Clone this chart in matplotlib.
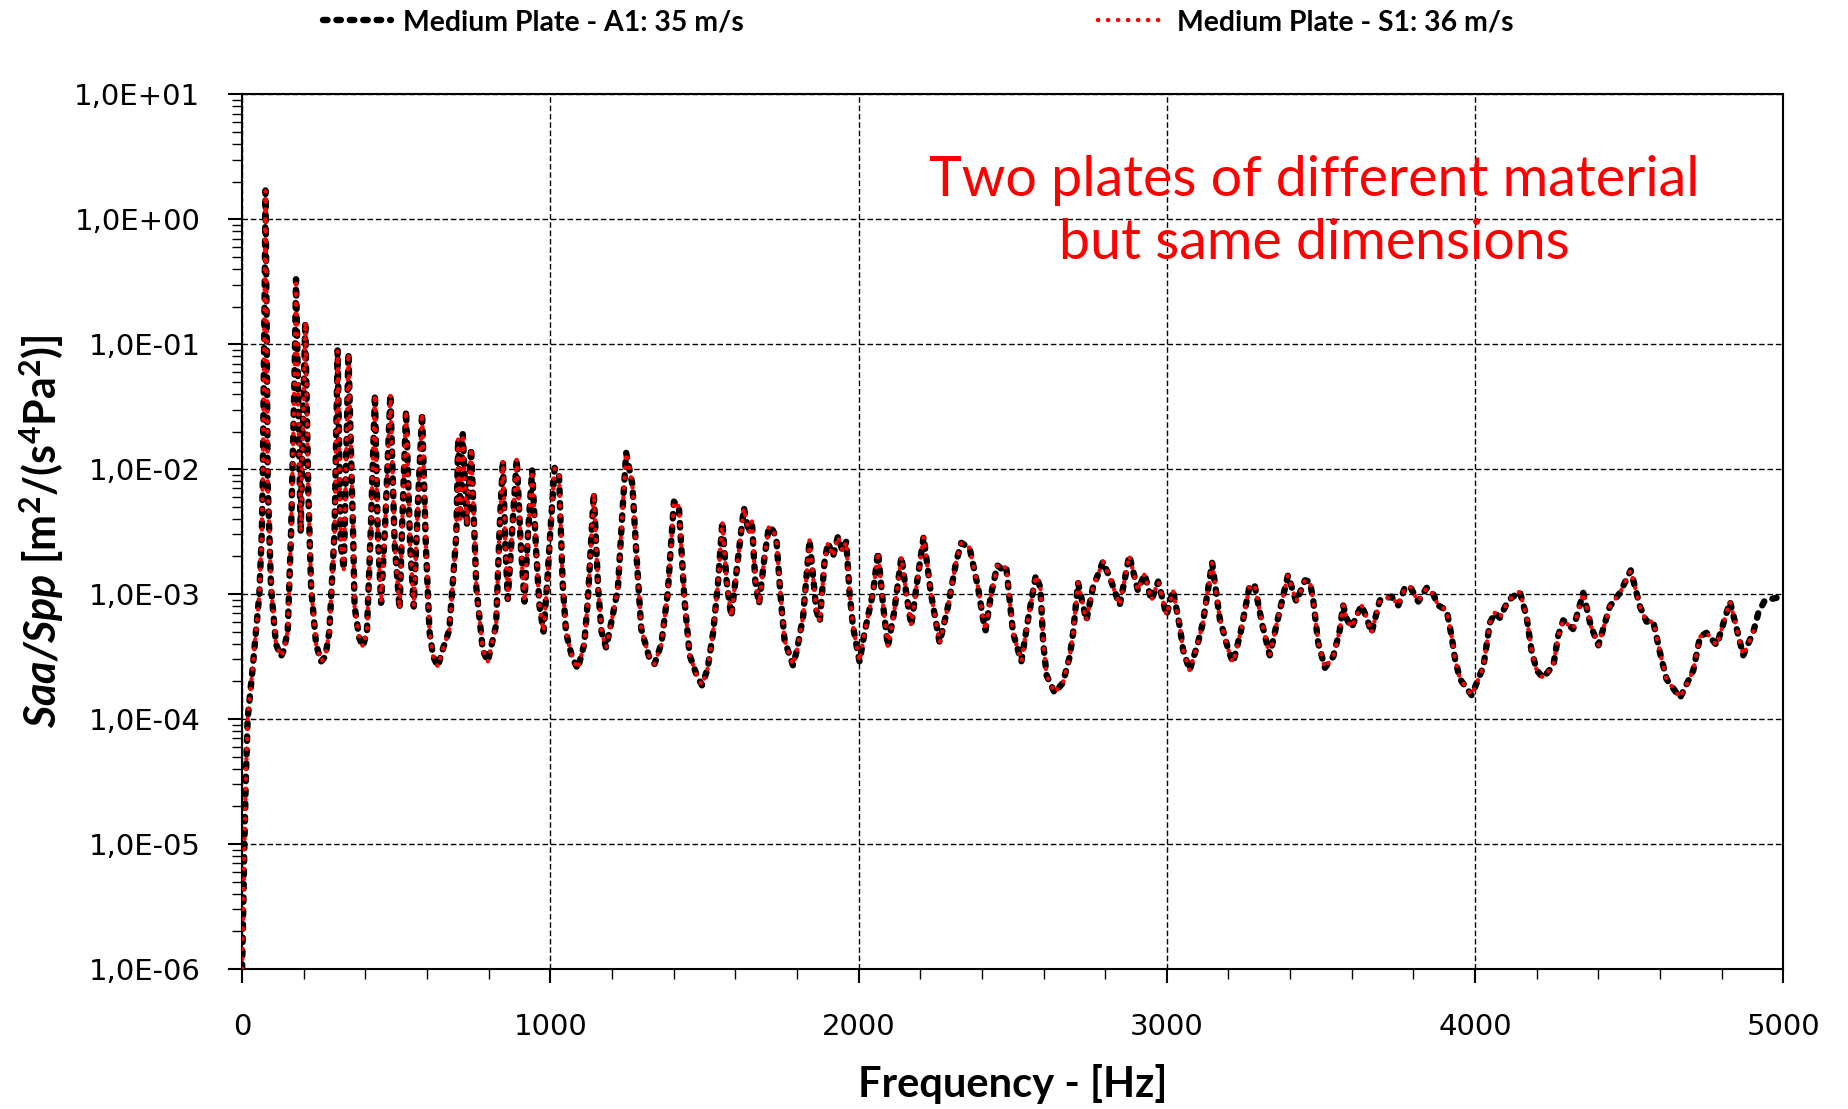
import matplotlib
matplotlib.use("Agg")
import matplotlib.pyplot as plt
import numpy as np
from matplotlib.ticker import LogLocator, FuncFormatter, MultipleLocator, NullFormatter

# ---------------- data ----------------
freq_hz = [
    0, 4, 7.5, 12, 18, 26, 34, 45, 56, 64,
    67, 72, 76, 80, 83, 94, 110, 126, 135, 148,
    159, 170, 175, 190, 205, 215, 224, 240, 256, 270,
    283, 300, 310, 320, 330, 345, 360, 365, 380, 392,
    405, 418, 431, 440, 451, 465, 481, 495, 511, 520,
    532, 545, 557, 570, 584, 596, 608, 620, 635, 650,
    672, 695, 701, 708, 716, 729, 743, 755, 760, 781,
    797, 810, 824, 835, 846, 854, 862, 876, 891, 904,
    916, 928, 941, 955, 965, 978, 990, 1000, 1014, 1028,
    1040, 1051, 1070, 1089, 1110, 1122, 1141, 1155, 1166, 1181,
    1200, 1219, 1235, 1246, 1266, 1279, 1295, 1320, 1338, 1360,
    1381, 1401, 1417, 1435, 1452, 1475, 1492, 1510, 1528, 1544,
    1558, 1572, 1587, 1605, 1628, 1644, 1654, 1665, 1677, 1695,
    1709, 1722, 1733, 1748, 1760, 1787, 1800, 1820, 1841, 1863,
    1874, 1890, 1901, 1917, 1933, 1949, 1960, 1971, 1982, 2003,
    2020, 2047, 2063, 2080, 2095, 2115, 2139, 2155, 2171, 2190,
    2211, 2235, 2263, 2290, 2316, 2333, 2360, 2387, 2404, 2412,
    2430, 2450, 2465, 2479, 2501, 2528, 2550, 2575, 2590, 2599,
    2610, 2636, 2663, 2685, 2696, 2712, 2739, 2760, 2793, 2820,
    2847, 2866, 2878, 2906, 2928, 2950, 2972, 2999, 3020, 3042,
    3053, 3074, 3100, 3117, 3147, 3172, 3200, 3215, 3240, 3269,
    3285, 3310, 3334, 3360, 3393, 3420, 3448, 3464, 3475, 3491,
    3513, 3540, 3561, 3572, 3584, 3599, 3620, 3632, 3650, 3664,
    3691, 3729, 3751, 3772, 3789, 3816, 3843, 3864, 3880, 3908,
    3924, 3935, 3951, 3989, 4027, 4048, 4064, 4080, 4108, 4145,
    4167, 4183, 4200, 4221, 4254, 4270, 4286, 4318, 4351, 4375,
    4400, 4437, 4470, 4505, 4535, 4556, 4578, 4600, 4621, 4665,
    4708, 4730, 4751, 4784, 4827, 4870, 4903, 4919, 4940, 4978,
]

# log10 of Saa/Spp
log10_saa_a1 = [
    -6.0, -5.5, -5.0, -4.5, -4.0, -3.8, -3.6, -3.3, -3.0, -2.5,
    -2.1, -0.9, 0.23, -0.9, -2.1, -2.95, -3.4, -3.5, -3.45, -3.3,
    -2.5, -1.28, -0.48, -2.5, -0.82, -2.2, -2.95, -3.4, -3.54, -3.5,
    -3.3, -2.5, -1.05, -2.6, -2.8, -1.07, -2.5, -3.1, -3.35, -3.42,
    -3.3, -2.45, -1.4, -2.5, -3.07, -2.4, -1.4, -2.6, -3.12, -2.4,
    -1.53, -2.6, -3.1, -2.3, -1.55, -2.6, -3.3, -3.5, -3.58, -3.45,
    -3.29, -2.53, -1.76, -2.4, -1.72, -2.45, -1.83, -2.6, -2.95, -3.45,
    -3.54, -3.4, -3.25, -2.5, -1.93, -2.6, -3.04, -2.5, -1.92, -2.6,
    -3.06, -2.5, -2.01, -2.7, -3.1, -3.3, -2.9, -2.5, -1.99, -2.04,
    -2.91, -3.31, -3.5, -3.6, -3.4, -3.04, -2.19, -2.95, -3.3, -3.43,
    -3.2, -2.96, -2.3, -1.87, -2.12, -2.67, -3.28, -3.5, -3.56, -3.4,
    -2.99, -2.26, -2.3, -3.04, -3.49, -3.65, -3.73, -3.6, -3.31, -2.91,
    -2.42, -2.9, -3.18, -2.8, -2.31, -2.51, -2.42, -2.9, -3.08, -2.7,
    -2.46, -2.49, -2.55, -3.05, -3.37, -3.57, -3.45, -3.18, -2.57, -3.13,
    -3.22, -2.73, -2.59, -2.7, -2.54, -2.66, -2.58, -3.0, -3.26, -3.54,
    -3.3, -2.99, -2.66, -3.1, -3.42, -3.15, -2.70, -3.0, -3.25, -2.9,
    -2.54, -3.0, -3.39, -3.1, -2.75, -2.59, -2.63, -2.94, -3.2, -3.29,
    -3.0, -2.77, -2.8, -2.78, -3.31, -3.54, -3.2, -2.85, -2.95, -3.39,
    -3.65, -3.79, -3.71, -3.5, -3.31, -2.91, -3.21, -2.95, -2.74, -2.9,
    -3.09, -2.85, -2.69, -2.97, -2.84, -3.05, -2.9, -3.17, -2.97, -3.26,
    -3.45, -3.61, -3.4, -3.23, -2.75, -3.2, -3.45, -3.55, -3.3, -2.93,
    -2.93, -3.25, -3.49, -3.2, -2.85, -3.06, -2.89, -2.9, -3.05, -3.39,
    -3.59, -3.5, -3.29, -3.09, -3.2, -3.27, -3.15, -3.09, -3.2, -3.31,
    -3.05, -3.02, -3.09, -2.95, -2.94, -3.06, -2.95, -3.0, -3.09, -3.13,
    -3.34, -3.52, -3.68, -3.81, -3.58, -3.23, -3.15, -3.19, -3.05, -2.98,
    -3.18, -3.45, -3.61, -3.67, -3.57, -3.33, -3.21, -3.28, -2.99, -3.25,
    -3.41, -3.1, -2.99, -2.81, -3.1, -3.22, -3.22, -3.47, -3.68, -3.83,
    -3.61, -3.34, -3.31, -3.41, -3.06, -3.49, -3.3, -3.15, -3.05, -3.03,
]

s1_last_hz = 4903          # the red S1 curve stops here
label_a1 = "Medium Plate - A1: 35 m/s"
label_s1 = "Medium Plate - S1: 36 m/s"
x_ticks = [0, 1000, 2000, 3000, 4000, 5000]
note_text = "Two plates of different material\nbut same dimensions"

# ---------------- derived series ----------------
freq_a1 = np.array(freq_hz, dtype=float)
saa_a1 = 10.0 ** np.array(log10_saa_a1)
mask_s1 = freq_a1 <= s1_last_hz
freq_s1 = freq_a1[mask_s1]
saa_s1 = saa_a1[mask_s1]

# ---------------- styling ----------------
plt.rcParams["mathtext.fontset"] = "custom"
plt.rcParams["mathtext.rm"] = "Lato"
plt.rcParams["mathtext.it"] = "Lato:italic"
plt.rcParams["mathtext.bf"] = "Lato:bold"
plt.rcParams["mathtext.bfit"] = "Lato:italic:bold"

fig = plt.figure(figsize=(18.48, 11.09), dpi=100)
ax = fig.add_axes([0.131, 0.1263, 0.834, 0.7887])

la, = ax.plot(freq_a1, saa_a1, color="black", lw=4.6,
              linestyle=(0, (0.7, 1.4)), dash_capstyle="round",
              label=label_a1, zorder=3)
ls, = ax.plot(freq_s1, saa_s1, color="red", lw=3.2,
              linestyle=(0, (0.05, 2.2)), dash_capstyle="round",
              label=label_s1, zorder=4)

ax.set_yscale("log")
ax.set_ylim(1e-6, 1e1)
ax.set_xlim(0, 5000)
ax.set_xticks(x_ticks)
ax.xaxis.set_minor_locator(MultipleLocator(200))
ax.yaxis.set_major_locator(LogLocator(base=10, numticks=20))
ax.yaxis.set_minor_locator(LogLocator(base=10, subs=np.arange(2, 10), numticks=20))
ax.yaxis.set_minor_formatter(NullFormatter())
ax.yaxis.set_major_formatter(FuncFormatter(lambda v, p: f"{v:.1E}".replace(".", ",")))

for sp in ax.spines.values():
    sp.set_linewidth(1.5)

ax.tick_params(which="major", direction="out", length=10, width=1.5,
               labelsize=21, pad=20)
ax.tick_params(which="minor", direction="out", length=7, width=1.0)
ax.tick_params(axis="x", which="major", pad=22)

ax.grid(which="major", color="black", linestyle=(0, (4, 2)), lw=1.0, zorder=1)
ax.set_axisbelow(True)

ax.set_xlabel("Frequency - [Hz]", family="Lato", fontweight="bold", fontsize=30)
ax.xaxis.set_label_coords(0.5, -0.109)
ax.set_ylabel(r"$\mathbfit{Saa/Spp}$ [m$^{\mathbf{2}}$/(s$^{\mathbf{4}}$Pa$^{\mathbf{2}}$)]",
              family="Lato", fontweight="bold", fontsize=31)
ax.yaxis.set_label_coords(-0.114, 0.5)

fig.text(0.711, 0.809, note_text, ha="center", va="center", color="red",
         family="Lato", fontsize=40, linespacing=1.3)

fig.legend(handles=[la, ls], labels=[label_a1, label_s1], loc="center",
           bbox_to_anchor=(0.497, 0.980), ncol=2, frameon=False,
           prop=dict(family="Lato", weight="bold", size=20.4),
           handlelength=2.4, columnspacing=12.5, handletextpad=0.4)

fig.savefig("out.png", dpi=100)
